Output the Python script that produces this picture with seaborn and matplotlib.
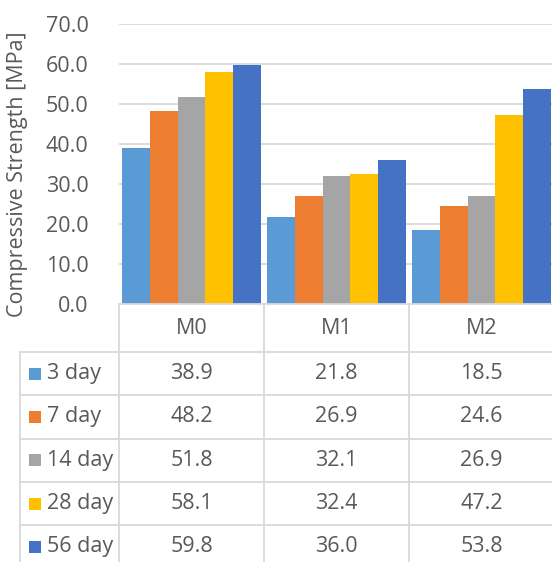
import matplotlib
matplotlib.use("Agg")
import matplotlib.pyplot as plt
import seaborn as sns
import pandas as pd

mixes = ["M0", "M1", "M2"]
ages = ["3 day", "7 day", "14 day", "28 day", "56 day"]
s3 = [38.9, 21.8, 18.5]
s7 = [48.2, 26.9, 24.6]
s14 = [51.8, 32.1, 26.9]
s28 = [58.1, 32.4, 47.2]
s56 = [59.8, 36.0, 53.8]
colors = ["#5B9BD5", "#ED7D31", "#A5A5A5", "#FFC000", "#4472C4"]
yticks = [0, 10, 20, 30, 40, 50, 60, 70]
ylabel = "Compressive Strength [MPa]"

series = [s3, s7, s14, s28, s56]
rows = []
for age, vals in zip(ages, series):
    for m, v in zip(mixes, vals):
        rows.append({"mix": m, "age": age, "strength": v})
df = pd.DataFrame(rows)

sns.set_style("white")
plt.rcParams["font.family"] = ["Open Sans", "DejaVu Sans"]
TXT = "#595959"
GRID = "#D9D9D9"
FS = 15.5

W, H = 552, 562
fig = plt.figure(figsize=(W / 100, H / 100), dpi=100)

# layout (pixels)
x0 = 119
cw = 145
y_base = 304
y_top = 24
ax = fig.add_axes([x0 / W, (H - y_base) / H, 3 * cw / W, (y_base - y_top) / H])
sns.barplot(data=df, x="mix", y="strength", hue="age", hue_order=ages,
            order=mixes, palette=colors, saturation=1, width=0.96,
            linewidth=0, legend=False, ax=ax)
ax.set_xlim(-0.5, 2.5)
ax.set_ylim(0, 70)
ax.set_yticks(yticks)
ax.set_yticklabels([f"{v:.1f}" for v in yticks], color=TXT, fontsize=FS)
ax.tick_params(axis="y", length=0, pad=22)
ax.set_xticks([])
ax.set_xlabel("")
ax.set_ylabel("")
for v in yticks[1:]:
    ax.axhline(v, color=GRID, lw=1.3, zorder=0)
for s in ["top", "right", "left"]:
    ax.spines[s].set_visible(False)
ax.spines["bottom"].set_color(GRID)
ax.spines["bottom"].set_linewidth(1.3)
ax.set_axisbelow(True)

fig.text(18 / W, 1 - 174 / H, ylabel, rotation=90, ha="center", va="center",
         color=TXT, fontsize=FS)

# data table
tax = fig.add_axes([0, 0, 1, 1])
tax.set_xlim(0, W)
tax.set_ylim(H, 0)
tax.axis("off")
x_left = 20
y_head = 352
rh = 43.3
n = len(ages)
y_bottom = y_head + rh * n
for i in range(len(mixes) + 1):
    xx = x0 + cw * i
    tax.plot([xx, xx], [y_base, y_bottom], color=GRID, lw=1.3)
tax.plot([x_left, x_left], [y_head, y_bottom], color=GRID, lw=1.3)
for j in range(n + 1):
    yy = y_head + rh * j
    tax.plot([x_left, W + 5], [yy, yy], color=GRID, lw=1.3)
for i, m in enumerate(mixes):
    tax.text(x0 + cw * (i + 0.5), (y_base + y_head) / 2 + 1, m, ha="center",
             va="center", color=TXT, fontsize=FS)
for j, (age, vals, c) in enumerate(zip(ages, series, colors)):
    yc = y_head + rh * (j + 0.5)
    tax.add_patch(plt.Rectangle((29, yc - 6), 12, 12, color=c, lw=0))
    tax.text(47, yc, age, ha="left", va="center", color=TXT, fontsize=FS)
    for i, v in enumerate(vals):
        tax.text(x0 + cw * (i + 0.5), yc, f"{v:.1f}", ha="center",
                 va="center", color=TXT, fontsize=FS)

fig.savefig("out.png", dpi=100)
